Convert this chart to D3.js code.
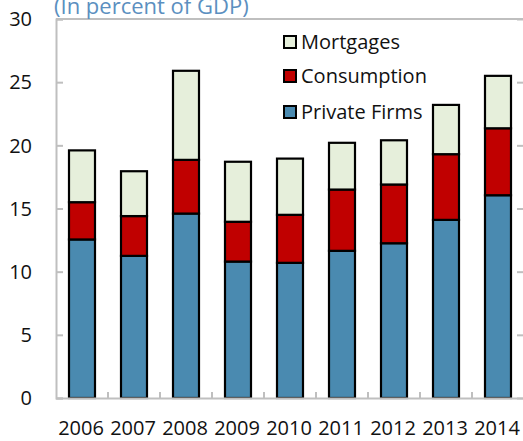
<!DOCTYPE html>
<html><head><meta charset="utf-8">
<script src="https://cdn.jsdelivr.net/npm/d3@7"></script>
<style>body{margin:0;background:#fff}svg{display:block;font-family:"Open Sans",sans-serif}</style>
</head><body><svg id="c" width="523" height="441"></svg>
<script>
const years = ["2006","2007","2008","2009","2010","2011","2012","2013","2014"];
const privateFirms = [12.55, 11.25, 14.6, 10.8, 10.7, 11.65, 12.25, 14.1, 16.05];
const consumption  = [2.95, 3.15, 4.25, 3.15, 3.8, 4.85, 4.65, 5.2, 5.3];
const mortgages    = [4.1, 3.55, 7.05, 4.75, 4.45, 3.7, 3.5, 3.9, 4.15];
const yTicks = [0,5,10,15,20,25,30];
const seriesNames = ["Private Firms","Consumption","Mortgages"];
const colors = ["#4a8ab0","#c00000","#e6efdb"];

const svg = d3.select("#c");
const L=56, R=524, T=19, B=398;
const x = d3.scaleBand().domain(years).range([L,R]).paddingInner(0.5).paddingOuter(0.25);
const xb = d3.scaleBand().domain(years).range([L,R]);
const y = d3.scaleLinear().domain([0,30]).range([B,T]);

const rows = years.map((yr,i)=>({year:yr,"Private Firms":privateFirms[i],"Consumption":consumption[i],"Mortgages":mortgages[i]}));
const stack = d3.stack().keys(seriesNames)(rows);

const grey="#bfbfbf";
svg.append("line").attr("x1",L).attr("x2",R).attr("y1",T).attr("y2",T).attr("stroke",grey).attr("stroke-width",2);
svg.append("line").attr("x1",R).attr("x2",R).attr("y1",T).attr("y2",B).attr("stroke",grey).attr("stroke-width",2);

const gy = svg.append("g").attr("transform",`translate(${L},0)`)
  .call(d3.axisRight(y).tickValues(yTicks).tickSize(7).tickFormat(""));
gy.select(".domain").attr("stroke",grey).attr("stroke-width",2);
gy.selectAll(".tick line").attr("stroke",grey).attr("stroke-width",2);
svg.append("g").selectAll("text").data(yTicks).join("text")
  .attr("x",32).attr("y",d=>y(d)).attr("dy","0.36em").attr("text-anchor","end")
  .attr("font-size",20).attr("fill","#111").text(d=>d);
const gr = svg.append("g").attr("transform",`translate(${R},0)`)
  .call(d3.axisLeft(y).tickValues(yTicks).tickSize(7).tickFormat(""));
gr.select(".domain").remove();
gr.selectAll(".tick line").attr("stroke",grey).attr("stroke-width",2);

svg.append("g").selectAll("g").data(stack).join("g")
  .attr("fill",(d,i)=>colors[i])
  .selectAll("rect").data(d=>d).join("rect")
  .attr("x",d=>x(d.data.year)).attr("width",x.bandwidth())
  .attr("y",d=>y(d[1])).attr("height",d=>y(d[0])-y(d[1]))
  .attr("stroke","#000").attr("stroke-width",2.2);

const gx = svg.append("g").attr("transform",`translate(0,${B})`)
  .call(d3.axisTop(xb).tickValues([]).tickSize(0).tickFormat(""));
gx.select(".domain").attr("stroke",grey).attr("stroke-width",2);
svg.append("g").selectAll("line").data(years.slice(1)).join("line")
  .attr("x1",d=>xb(d)).attr("x2",d=>xb(d)).attr("y1",B).attr("y2",B-6)
  .attr("stroke",grey).attr("stroke-width",2);
svg.append("g").selectAll("text").data(years).join("text")
  .attr("x",d=>xb(d)+xb.bandwidth()/2-1).attr("y",435).attr("text-anchor","middle")
  .attr("font-size",20).attr("fill","#111").text(d=>d);

svg.append("text").attr("x",54).attr("y",14).attr("font-size",22).attr("fill","#5b8fc0")
  .text("(In percent of GDP)");

const leg = [{n:"Mortgages",c:colors[2],y:42},{n:"Consumption",c:colors[1],y:76},{n:"Private Firms",c:colors[0],y:112}];
const lg = svg.append("g").selectAll("g").data(leg).join("g");
lg.append("rect").attr("x",284).attr("y",d=>d.y-6).attr("width",12).attr("height",12)
  .attr("fill",d=>d.c).attr("stroke","#000").attr("stroke-width",2);
lg.append("text").attr("x",301).attr("y",d=>d.y).attr("dy","0.36em")
  .attr("font-size",20).attr("fill","#111").text(d=>d.n);
</script></body></html>
